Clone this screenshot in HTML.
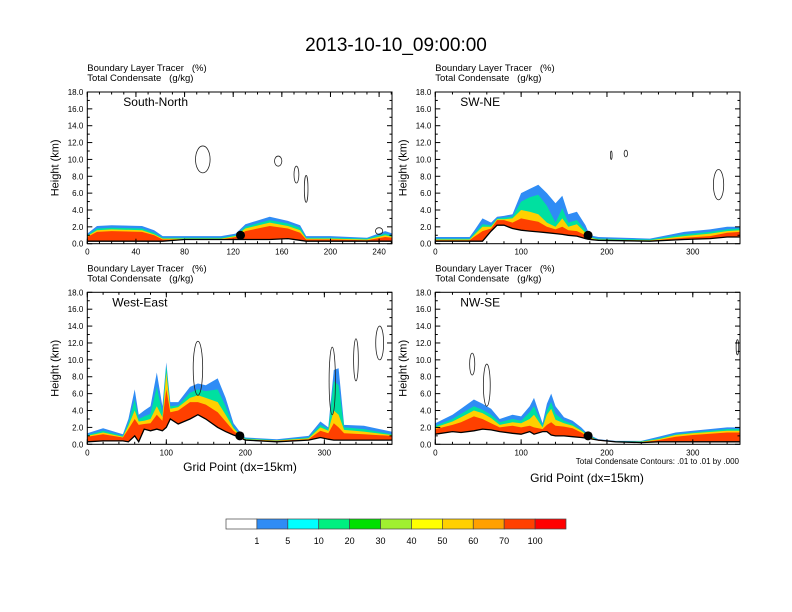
<!DOCTYPE html>
<html><head><meta charset="utf-8"><style>
body{margin:0;background:#fff}
svg{display:block;font-family:"Liberation Sans",Arial,sans-serif}
svg text{white-space:pre}
</style></head><body>
<svg id="c" width="792" height="612" viewBox="0 0 792 612">
<text x="396" y="51" font-size="19" text-anchor="middle">2013-10-10_09:00:00</text>
</svg>
<script>
const NS='http://www.w3.org/2000/svg';
const svg=document.getElementById('c');
const bandColors=['#2f8cf5','#00e0a0','#ffd000','#ff4000'];
const levelColors=['#ffffff','#2f8cf5','#00ffff','#00f080','#00e000','#a0f030','#ffff00','#ffd000','#ffa000','#ff4000','#ff0000'];
const levelLabels=['1','5','10','20','30','40','50','60','70','100'];

const snX=[0,8,20,45,55,62,80,110,122,130,150,165,175,180,200,230,245,251];
const snTerr=[0.3,0.3,0.3,0.3,0.3,0.3,0.5,0.5,0.5,0.5,0.5,0.6,0.4,0.3,0.3,0.3,0.3,0.3];
const snBlue=[1.2,2.1,2.2,2.1,1.6,0.9,0.9,0.9,1.2,2.3,3.2,2.7,2.2,0.9,0.9,0.7,1.5,1.2];
const snGreen=[1.0,1.8,1.9,1.8,1.3,0.7,0.7,0.7,1.0,2.0,2.8,2.4,1.9,0.7,0.7,0.6,1.2,1.0];
const snYellow=[0.9,1.6,1.7,1.6,1.1,0.6,0.6,0.6,0.9,1.8,2.5,2.1,1.6,0.6,0.6,0.5,1.0,0.8];
const snRed=[0.8,1.4,1.5,1.4,1.0,0.5,0.5,0.5,0.8,1.5,2.1,1.8,1.3,0.5,0.5,0.4,0.8,0.7];

const swX=[0,40,45,55,65,72,80,90,100,110,120,130,140,148,155,165,175,180,190,250,290,320,340,355];
const swTerr=[0.3,0.3,0.3,0.3,1.5,2.2,2.2,1.8,1.6,1.5,1.4,1.3,1.2,1.1,1.0,0.9,0.6,0.5,0.4,0.3,0.5,0.6,0.8,0.8];
const swBlue=[0.8,0.8,1.5,3.0,2.5,3.2,3.3,3.5,6.0,6.5,7.0,6.0,4.8,5.7,3.5,3.8,2.2,1.0,0.8,0.6,1.4,1.7,2.0,2.0];
const swGreen=[0.6,0.6,1.2,2.3,2.2,3.0,3.1,3.2,5.0,5.5,5.8,4.5,2.5,4.2,2.5,2.8,1.6,0.8,0.6,0.5,1.1,1.4,1.7,1.8];
const swYellow=[0.5,0.5,1.0,2.0,2.0,2.9,2.9,3.0,4.0,3.8,3.5,2.5,2.0,3.0,2.0,2.3,1.3,0.7,0.5,0.4,0.9,1.2,1.5,1.6];
const swRed=[0.4,0.4,0.8,1.5,1.8,2.8,2.8,2.5,3.0,2.8,2.6,2.0,1.7,2.0,1.6,1.5,1.0,0.6,0.4,0.35,0.7,0.9,1.3,1.4];

const weX=[0,20,45,52,60,65,72,80,88,95,100,105,115,130,140,150,165,175,185,193,200,240,280,295,305,312,318,325,350,385];
const weTerr=[0.3,0.4,0.4,0.3,1.0,0.3,1.8,1.6,1.8,1.6,2.0,3.0,2.4,3.0,3.5,3.0,2.0,1.5,1.1,0.8,0.5,0.3,0.5,0.8,0.6,0.5,0.5,0.5,0.5,0.5];
const weBlue=[1.3,1.9,1.2,3.0,6.5,3.5,4.0,4.5,8.5,4.5,9.7,5.0,5.0,6.8,7.2,7.0,7.8,5.5,2.5,1.5,0.8,0.6,1.0,2.7,2.0,8.8,9.0,2.3,2.2,1.5];
const weGreen=[1.1,1.6,1.0,2.5,5.3,3.0,3.3,3.6,6.8,3.7,9.3,4.5,4.6,6.1,6.5,6.3,6.5,4.5,2.1,1.2,0.7,0.5,0.8,2.3,1.8,7.5,7.0,2.0,1.8,1.2];
const weYellow=[1.0,1.4,0.9,2.2,4.0,2.7,2.8,3.0,4.5,3.2,8.5,4.2,4.4,5.5,5.8,5.5,5.0,3.5,1.9,1.1,0.6,0.45,0.7,2.0,1.6,4.0,3.5,1.7,1.5,1.1];
const weRed=[0.9,1.2,0.8,1.8,3.0,2.3,2.4,2.5,3.5,2.8,6.5,3.8,4.0,5.0,5.0,4.7,3.8,2.7,1.6,1.0,0.55,0.4,0.6,1.6,1.3,2.5,2.0,1.3,1.2,1.0];

const nwX=[0,20,30,45,55,65,75,90,100,110,115,125,130,135,140,150,160,170,178,190,210,240,260,280,300,340,355];
const nwTerr=[1.2,1.5,1.4,1.6,1.8,1.7,1.5,1.3,1.2,1.5,1.2,1.5,1.5,1.1,1.0,1.0,0.9,0.8,0.7,0.5,0.3,0.2,0.3,0.3,0.3,0.3,0.3];
const nwBlue=[2.5,3.5,4.2,5.3,4.8,4.2,3.0,3.5,3.3,4.5,5.5,2.5,4.8,6.0,4.5,3.2,2.8,2.0,1.2,0.6,0.4,0.4,0.9,1.4,1.6,2.0,2.0];
const nwGreen=[2.2,3.0,3.6,4.5,4.1,3.5,2.6,3.0,2.8,3.8,4.5,2.2,4.0,5.0,3.6,2.8,2.4,1.7,1.1,0.5,0.35,0.35,0.7,1.2,1.4,1.8,1.8];
const nwYellow=[2.0,2.7,3.2,4.0,3.7,3.1,2.3,2.6,2.5,3.0,3.5,2.0,3.5,4.2,2.9,2.5,2.2,1.6,1.0,0.45,0.3,0.3,0.6,1.1,1.3,1.6,1.6];
const nwRed=[1.8,2.3,2.6,3.3,3.0,2.5,2.0,2.2,2.0,2.2,2.0,1.8,2.3,2.6,2.2,2.1,1.9,1.4,0.9,0.4,0.3,0.25,0.5,0.9,1.1,1.4,1.4];

const snClouds=[[95,10.0,6,1.6],[157,9.8,3,0.6],[172,8.2,2,1.0],[180,6.5,1.5,1.6],[240,1.5,3,0.4]];
const swClouds=[[205,10.5,1,0.5],[222,10.7,2,0.4],[330,7.0,6,1.8]];
const weClouds=[[140,9.0,6,3.2],[310,7.5,4,4.0],[340,10.0,3,2.5],[370,12.0,5,2.0]];
const nwClouds=[[43,9.5,3,1.3],[60,7.0,4,2.5],[352,11.5,1.5,0.9]];

const panels=[
 {name:'south-north',label:'South-North',x0:87.3,x1:392,y0:92,y1:243.7,xmax:250.6,ticks:[0,40,80,120,160,200,240],minor:10,X:snX,T:snTerr,B:[snBlue,snGreen,snYellow,snRed],clouds:snClouds,dot:[126,1.0]},
 {name:'sw-ne',label:'SW-NE',x0:435.3,x1:740,y0:92,y1:243.7,xmax:355,ticks:[0,100,200,300],minor:20,X:swX,T:swTerr,B:[swBlue,swGreen,swYellow,swRed],clouds:swClouds,dot:[178,1.0]},
 {name:'west-east',label:'West-East',x0:87.3,x1:392,y0:292.3,y1:444.3,xmax:385.6,ticks:[0,100,200,300],minor:20,X:weX,T:weTerr,B:[weBlue,weGreen,weYellow,weRed],clouds:weClouds,dot:[193,1.0]},
 {name:'nw-se',label:'NW-SE',x0:435.3,x1:740,y0:292.3,y1:444.3,xmax:355,ticks:[0,100,200,300],minor:20,X:nwX,T:nwTerr,B:[nwBlue,nwGreen,nwYellow,nwRed],clouds:nwClouds,dot:[178,1.0]}
];

function el(tag,attrs,parent){const e=document.createElementNS(NS,tag);for(const k in attrs)e.setAttribute(k,attrs[k]);(parent||svg).appendChild(e);return e;}
function txt(s,attrs,parent){const e=el('text',attrs,parent);e.textContent=s;return e;}

panels.forEach(p=>{
 const g=el('g',{});
 
 
 const sx=v=>p.x0+(v/p.xmax)*(p.x1-p.x0);
 const sy=v=>p.y1-(v/18)*(p.y1-p.y0);
 const cid='clip-'+p.name;
 const cp=el('clipPath',{id:cid},g);el('rect',{x:p.x0,y:p.y0,width:p.x1-p.x0,height:p.y1-p.y0},cp);
 const plot=el('g',{'clip-path':'url(#'+cid+')'},g);
 p.B.forEach((arr,bi)=>{
  let d='M'+sx(p.X[0])+','+sy(p.T[0]);
  for(let i=0;i<p.X.length;i++)d+=' L'+sx(p.X[i]).toFixed(1)+','+sy(arr[i]).toFixed(1);
  for(let i=p.X.length-1;i>=0;i--)d+=' L'+sx(p.X[i]).toFixed(1)+','+sy(p.T[i]).toFixed(1);
  const b=el('path',{d:d+'Z',fill:bandColors[bi]},plot);
  
  
 });
 let td='';p.X.forEach((x,i)=>td+=(i?' L':'M')+sx(x).toFixed(1)+','+sy(p.T[i]).toFixed(1));
 const tl=el('path',{d:td,fill:'none',stroke:'#000','stroke-width':1.3},plot);
 
 
 p.clouds.forEach(c=>{
  const ce=el('ellipse',{cx:sx(c[0]),cy:sy(c[1]),rx:(c[2]/p.xmax)*(p.x1-p.x0),ry:(c[3]/18)*(p.y1-p.y0),fill:'none',stroke:'#222','stroke-width':0.8},plot);
  
  
 });
 const dot=el('circle',{cx:sx(p.dot[0]),cy:sy(p.dot[1]),r:4.5,fill:'#000'},g);
 
 
 el('rect',{x:p.x0,y:p.y0,width:p.x1-p.x0,height:p.y1-p.y0,fill:'none',stroke:'#000','stroke-width':1},g);
 for(let v=0;v<=18;v+=2){
  const y=sy(v);
  el('line',{x1:p.x0,x2:p.x0+5,y1:y,y2:y,stroke:'#000'},g);
  el('line',{x1:p.x1,x2:p.x1-5,y1:y,y2:y,stroke:'#000'},g);
  if(v<18){el('line',{x1:p.x0,x2:p.x0+2.5,y1:sy(v+1),y2:sy(v+1),stroke:'#000'},g);el('line',{x1:p.x1,x2:p.x1-2.5,y1:sy(v+1),y2:sy(v+1),stroke:'#000'},g);}
  const t=txt(v.toFixed(1),{x:p.x0-4,y:y+3,'font-size':8,'text-anchor':'end'},g);
  
  
 }
 for(let v=0;v<=p.xmax;v+=p.minor){
  const x=sx(v);
  el('line',{x1:x,x2:x,y1:p.y1,y2:p.y1-2.5,stroke:'#000'},g);
  el('line',{x1:x,x2:x,y1:p.y0,y2:p.y0+2.5,stroke:'#000'},g);
 }
 p.ticks.forEach(v=>{
  const x=sx(v);
  el('line',{x1:x,x2:x,y1:p.y1,y2:p.y1-5,stroke:'#000'},g);
  el('line',{x1:x,x2:x,y1:p.y0,y2:p.y0+5,stroke:'#000'},g);
  const t=txt(String(v),{x:x,y:p.y1+11,'font-size':8,'text-anchor':'middle'},g);
  
  
 });
 const yt=txt('Height (km)',{x:0,y:0,'font-size':11,'text-anchor':'middle',transform:'translate('+(p.x0-29)+','+((p.y0+p.y1)/2)+') rotate(-90)'},g);
 
 
 const l1=txt('Boundary Layer Tracer   (%)',{x:p.x0,y:p.y0-21,'font-size':9.5},g);
 
 
 const l2=txt('Total Condensate   (g/kg)',{x:p.x0,y:p.y0-11,'font-size':9.5},g);
 
 
 const rl=txt(p.label,{x:p.x0+(p.name==='south-north'?36:25),y:p.y0+14,'font-size':12},g);
 
 
});

const xt1=txt('Grid Point (dx=15km)',{x:240,y:471,'font-size':12,'text-anchor':'middle'});


const xt2=txt('Grid Point (dx=15km)',{x:587,y:482,'font-size':12,'text-anchor':'middle'});


const cn=txt('Total Condensate Contours: .01 to .01 by .000',{x:739,y:464,'font-size':8,'text-anchor':'end'});



const cb=el('g',{});


const cbx=226,cbw=340/11;
levelColors.forEach((c,i)=>{
 const r=el('rect',{x:cbx+i*cbw,y:519,width:cbw,height:10,fill:c,stroke:'#444','stroke-width':0.7},cb);
 
 
});
levelLabels.forEach((s,i)=>{
 const t=txt(s,{x:cbx+(i+1)*cbw,y:544,'font-size':9,'text-anchor':'middle'},cb);
 
 
});
</script>
</body></html>
